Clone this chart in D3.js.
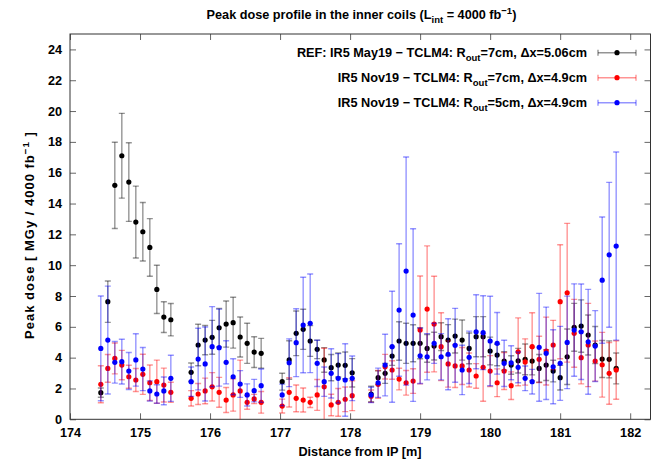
<!DOCTYPE html>
<html>
<head>
<meta charset="utf-8">
<script src="https://cdn.jsdelivr.net/npm/d3@7"></script>
<style>
  body { margin: 0; background: #fff; }
  svg text { font-family: "Liberation Sans", Arial, sans-serif; font-weight: bold; fill: #000; }
</style>
</head>
<body>
<script>

// positions along the beam line [m]
const positions = [
  174.44, 174.54, 174.64, 174.74, 174.84, 174.94, 175.04, 175.14, 175.24, 175.34, 175.44,
  175.73, 175.83, 175.93, 176.03, 176.13, 176.23, 176.33, 176.43, 176.53, 176.63, 176.73,
  177.03, 177.13, 177.23, 177.33, 177.43, 177.53, 177.63, 177.73, 177.83, 177.93, 178.03,
  178.3, 178.4, 178.5, 178.6, 178.7, 178.8, 178.9, 179.0, 179.1, 179.2, 179.3, 179.4,
  179.5, 179.6, 179.7, 179.8, 179.9, 180.0, 180.1, 180.2, 180.3, 180.4, 180.5, 180.6,
  180.7, 180.8, 180.9, 181.0, 181.1, 181.2, 181.3, 181.4, 181.5, 181.6, 181.7, 181.8
];

// REF: IR5 May19, Rout=7cm, dx=5.06cm
const refDose = [
  1.73, 7.63, 15.18, 17.1, 15.39, 12.8, 12.17, 11.15, 8.43, 6.63, 6.46,
  3.05, 4.82, 5.14, 5.32, 5.94, 6.18, 6.27, 5.34, 4.93, 4.36, 4.28,
  2.44, 3.85, 5.58, 5.84, 5.08, 4.54, 3.85, 3.35, 3.52, 3.5, 3.02,
  1.64, 2.7, 2.98, 4.1, 5.08, 4.93, 4.93, 4.93, 4.6, 4.75, 5.36, 5.14,
  5.4, 5.14, 4.6, 5.36, 5.36, 4.43, 4.17, 3.78, 3.52, 3.8, 3.89, 3.78,
  3.3, 3.52, 3.13, 2.7, 4.06, 5.97, 6.05, 5.47, 4.82, 3.91, 3.89, 3.3
];
const refErr = [
  0.3, 1.34, 2.8, 2.75, 2.55, 2.33, 1.9, 1.87, 1.57, 1.0, 1.05,
  0.6, 1.35, 0.95, 1.1, 1.25, 1.5, 1.65, 1.3, 1.3, 1.0, 0.97,
  0.55, 1.25, 1.45, 1.3, 1.0, 0.6, 0.8, 0.85, 0.78, 0.87, 0.92,
  0.5, 0.45, 0.65, 0.6, 1.25, 1.3, 1.2, 1.0, 0.9, 0.9, 0.9, 1.0,
  1.1, 1.3, 1.0, 1.3, 1.3, 0.9, 0.7, 0.6, 0.6, 0.8, 1.0, 0.9,
  0.9, 1.0, 0.7, 0.8, 1.8, 1.55, 1.7, 1.3, 1.2, 1.2, 1.2, 1.0
];

// IR5 Nov19, Rout=7cm, dx=4.9cm
const nov7Dose = [
  2.27, 3.3, 3.95, 3.52, 2.76, 2.55, 2.92, 2.37, 2.44, 2.22, 1.75,
  1.36, 1.64, 1.84, 2.11, 1.75, 1.25, 1.58, 1.84, 1.1, 1.32, 1.1,
  0.86, 1.75, 1.36, 1.25, 1.1, 1.58, 2.11, 0.93, 1.1, 1.3, 1.53,
  1.5, 2.27, 3.41, 3.2, 2.61, 2.37, 2.48, 5.8, 7.15, 6.18, 4.71, 3.59,
  3.46, 3.46, 3.2, 2.81, 3.37, 3.13, 2.37, 3.13, 2.18, 4.38, 3.72, 4.71,
  3.89, 4.43, 4.82, 7.63, 8.21, 5.58, 4.0, 4.82, 3.78, 3.54, 2.98, 3.2
];
const nov7Err = [
  1.2, 0.9, 1.0, 0.95, 0.75, 0.75, 1.3, 1.15, 1.4, 1.1, 0.65,
  0.5, 0.68, 0.83, 0.92, 0.97, 0.81, 1.05, 2.0, 0.45, 0.3, 0.7,
  0.45, 0.95, 0.87, 0.78, 0.33, 1.0, 2.5, 0.7, 0.9, 0.8, 0.97,
  0.4, 0.9, 0.8, 0.6, 0.7, 0.8, 0.8, 3.5, 4.1, 3.1, 2.2, 1.5,
  1.4, 1.2, 1.1, 0.8, 2.2, 1.0, 0.9, 1.2, 0.9, 2.2, 1.5, 2.2,
  1.5, 2.2, 1.6, 3.7, 4.5, 2.2, 1.7, 2.7, 1.3, 2.1, 2.0, 1.9
];

// IR5 Nov19, Rout=5cm, dx=4.9cm
const nov5Dose = [
  4.6, 5.14, 3.7, 3.74, 3.13, 3.85, 3.26, 1.84, 1.64, 1.84, 2.66,
  2.44, 3.91, 3.59, 4.71, 4.65, 3.7, 2.76, 2.29, 1.58, 1.86, 2.18,
  1.58, 3.67, 4.97, 6.12, 6.23, 3.63, 2.44, 2.98, 2.66, 2.55, 2.66,
  1.58, 2.37, 3.52, 4.71, 7.09, 9.62, 6.76, 4.12, 4.06, 4.93, 4.06, 4.22,
  4.8, 3.2, 4.02, 5.68, 5.62, 5.08, 4.93, 3.63, 3.67, 3.37, 2.66, 2.44,
  4.67, 4.28, 3.41, 3.63, 4.99, 5.79, 5.68, 5.03, 4.75, 9.03, 10.67, 11.24
];
const nov5Err = [
  3.4, 3.5, 1.35, 1.45, 1.2, 1.7, 1.4, 0.65, 0.6, 0.9, 1.5,
  0.95, 2.0, 2.4, 2.6, 2.5, 1.4, 1.17, 0.87, 0.72, 0.73, 1.08,
  0.7, 1.55, 2.2, 3.1, 3.2, 1.5, 0.95, 1.6, 1.6, 2.35, 1.45,
  0.5, 0.95, 2.0, 3.6, 4.3, 7.4, 5.6, 1.8, 1.5, 1.3, 1.5, 2.3,
  2.4, 1.6, 1.7, 2.4, 2.4, 2.9, 2.0, 1.5, 1.1, 1.0, 0.8, 0.8,
  3.5, 3.0, 2.4, 2.4, 3.0, 3.0, 3.1, 3.4, 2.3, 4.1, 4.7, 6.1
];

const xTicks = [174, 175, 176, 177, 178, 179, 180, 181, 182];
const yTicks = [0, 2, 4, 6, 8, 10, 12, 14, 16, 18, 20, 22, 24];

const series = [
  {
    color: '#000000',
    label: [['REF: IR5 May19 \u2212 TCLM4: R'], ['out', 'sub'], ['=7cm, \u0394x=5.06cm']],
    values: refDose, errs: refErr
  },
  {
    color: '#ff0000',
    label: [['IR5 Nov19 \u2212 TCLM4: R'], ['out', 'sub'], ['=7cm, \u0394x=4.9cm']],
    values: nov7Dose, errs: nov7Err
  },
  {
    color: '#0000ff',
    label: [['IR5 Nov19 \u2212 TCLM4: R'], ['out', 'sub'], ['=5cm, \u0394x=4.9cm']],
    values: nov5Dose, errs: nov5Err
  }
];

const width = 652, height = 459;
const plotLeft = 70, plotRight = 650.5, plotTop = 34, plotBottom = 419.3;
const fontSize = 12.7;

const svg = d3.select('body').append('svg')
    .attr('width', width)
    .attr('height', height);

const x = d3.scaleLinear().domain([174, 182.29]).range([plotLeft, plotRight]);
const y = d3.scaleLinear().domain([0, 25]).range([plotBottom, plotTop]);

// writes text pieces with sub/superscripts into a text element
function richText(sel, parts, size) {
  let back = 0;
  parts.forEach(p => {
    const t = sel.append('tspan').text(p[0]);
    let shift = back;
    back = 0;
    if (p[1] === 'sub') {
      t.attr('font-size', size * 0.75);
      shift += size * 0.3;
      back = -size * 0.3;
    } else if (p[1] === 'sup') {
      t.attr('font-size', size * 0.75);
      shift -= size * 0.4;
      back = size * 0.4;
    }
    if (shift !== 0) t.attr('dy', shift);
  });
}

svg.append('defs').append('clipPath')
    .attr('id', 'plotclip')
    .append('rect')
    .attr('x', plotLeft).attr('y', plotTop)
    .attr('width', plotRight - plotLeft).attr('height', plotBottom - plotTop);

// axes, ticks pointing inwards on all four sides
const gx = svg.append('g')
    .attr('transform', `translate(0,${plotBottom})`)
    .call(d3.axisBottom(x).tickValues(xTicks).tickSize(-6).tickPadding(8.5).tickFormat(d3.format('d')));
const gxTop = svg.append('g')
    .attr('transform', `translate(0,${plotTop})`)
    .call(d3.axisTop(x).tickValues(xTicks).tickSize(-6).tickFormat(''));
const gy = svg.append('g')
    .attr('transform', `translate(${plotLeft},0)`)
    .call(d3.axisLeft(y).tickValues(yTicks).tickSize(-6).tickPadding(8));
const gyRight = svg.append('g')
    .attr('transform', `translate(${plotRight},0)`)
    .call(d3.axisRight(y).tickValues(yTicks).tickSize(-6).tickFormat(''));

[gx, gxTop, gy, gyRight].forEach(g => {
  g.select('.domain').remove();
  g.selectAll('line').attr('stroke', '#666');
  g.selectAll('text')
      .attr('font-size', fontSize)
      .attr('font-family', '"Liberation Sans", Arial, sans-serif')
      .attr('font-weight', 'bold')
      .attr('fill', '#000');
});

svg.append('rect')
    .attr('x', plotLeft).attr('y', plotTop)
    .attr('width', plotRight - plotLeft).attr('height', plotBottom - plotTop)
    .attr('fill', 'none')
    .attr('stroke', '#333')
    .attr('stroke-width', 1);

// data
const plot = svg.append('g').attr('clip-path', 'url(#plotclip)');
const cap = 3;

series.forEach(s => {
  const pts = positions.map((p, i) => ({ x: p, v: s.values[i], e: s.errs[i] }));
  const g = plot.append('g');

  const bars = g.selectAll('g.bar').data(pts).join('g')
      .attr('class', 'bar')
      .attr('stroke', s.color)
      .attr('stroke-opacity', 0.42)
      .attr('stroke-width', 1.4);
  bars.append('line')
      .attr('x1', d => x(d.x)).attr('x2', d => x(d.x))
      .attr('y1', d => y(d.v - d.e)).attr('y2', d => y(d.v + d.e));
  bars.append('line')
      .attr('x1', d => x(d.x) - cap).attr('x2', d => x(d.x) + cap)
      .attr('y1', d => y(d.v + d.e)).attr('y2', d => y(d.v + d.e));
  bars.append('line')
      .attr('x1', d => x(d.x) - cap).attr('x2', d => x(d.x) + cap)
      .attr('y1', d => y(d.v - d.e)).attr('y2', d => y(d.v - d.e));

  g.selectAll('circle').data(pts).join('circle')
      .attr('cx', d => x(d.x))
      .attr('cy', d => y(d.v))
      .attr('r', 2.6)
      .attr('fill', s.color);
});

// legend
const legendRows = [52.7, 77.7, 102.7];
series.forEach((s, i) => {
  const ly = legendRows[i];
  const t = svg.append('text')
      .attr('x', 587)
      .attr('y', ly + 4.5)
      .attr('text-anchor', 'end')
      .attr('font-size', fontSize);
  richText(t, s.label, fontSize);

  const lg = svg.append('g')
      .attr('stroke', s.color)
      .attr('stroke-opacity', 0.42)
      .attr('stroke-width', 1.4);
  lg.append('line').attr('x1', 598).attr('x2', 636).attr('y1', ly).attr('y2', ly);
  lg.append('line').attr('x1', 598).attr('x2', 598).attr('y1', ly - cap).attr('y2', ly + cap);
  lg.append('line').attr('x1', 636).attr('x2', 636).attr('y1', ly - cap).attr('y2', ly + cap);
  svg.append('circle')
      .attr('cx', 617).attr('cy', ly).attr('r', 2.6)
      .attr('fill', s.color);
});

// title and axis labels
const title = svg.append('text')
    .attr('x', 361.5)
    .attr('y', 19)
    .attr('text-anchor', 'middle')
    .attr('font-size', fontSize);
richText(title, [['Peak dose profile in the inner coils (L'], ['int', 'sub'], [' = 4000 fb'], ['\u22121', 'sup'], [')']], fontSize);

svg.append('text')
    .attr('x', 360)
    .attr('y', 456)
    .attr('text-anchor', 'middle')
    .attr('font-size', fontSize)
    .text('Distance from IP [m]');

const ylab = svg.append('text')
    .attr('transform', 'translate(34,235) rotate(-90)')
    .attr('text-anchor', 'middle')
    .attr('font-size', 13)
    .attr('letter-spacing', 1);
richText(ylab, [['Peak dose [ MGy / 4000 fb'], ['\u22121', 'sup'], [' ]']], 13);

</script>
</body>
</html>
